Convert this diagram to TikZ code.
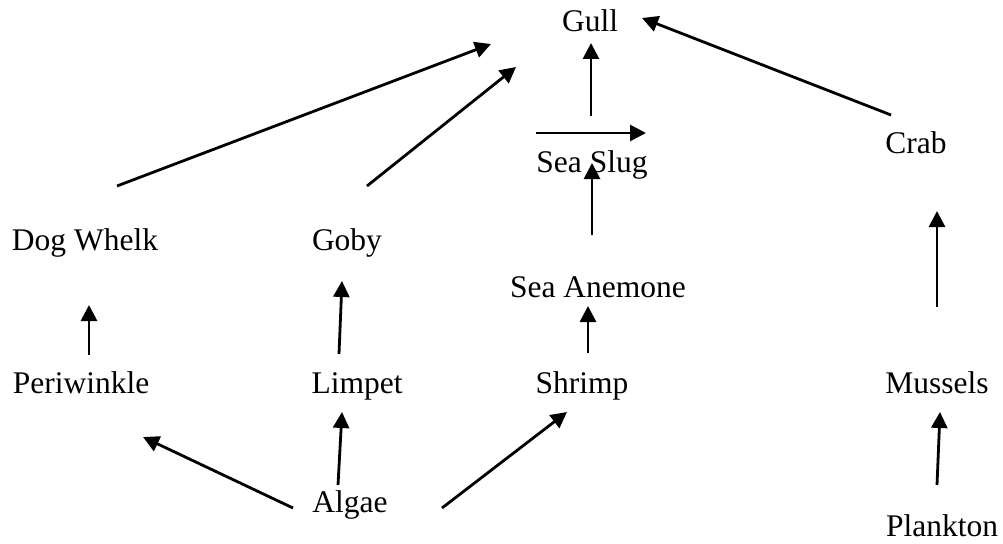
\documentclass[tikz,border=0pt]{standalone}
\usepackage{fontspec}
\setmainfont{Liberation Serif}
\usetikzlibrary{arrows.meta}
\begin{document}
\begin{tikzpicture}[x=1pt,y=-1pt,
  lab/.style={anchor=base,inner sep=0pt,font=\fontsize{31.5}{38}\selectfont},
  arr/.style={line width=2.8pt,-{Triangle[length=16pt,width=16pt]}}]
\useasboundingbox (0,0) rectangle (1003,543);
% labels
\node[lab] (gull) at (590,32) {Gull};
\node[lab] (seaslug) at (592,172) {Sea Slug};
\node[lab] (crab) at (916,153) {Crab};
\node[lab] (dogwhelk) at (85,250) {Dog Whelk};
\node[lab] (goby) at (347,250) {Goby};
\node[lab] (anemone) at (598,297) {Sea Anemone};
\node[lab] (periwinkle) at (81,393) {Periwinkle};
\node[lab] (limpet) at (357,393) {Limpet};
\node[lab] (shrimp) at (582,393) {Shrimp};
\node[lab] (mussels) at (937,393) {Mussels};
\node[lab] (algae) at (350,512) {Algae};
\node[lab] (plankton) at (942,536) {Plankton};
% arrow end points
\coordinate (dw-t) at (117,186); \coordinate (dw-h) at (491,44);
\coordinate (go-t) at (367,186); \coordinate (go-h) at (516,67);
\coordinate (ss-t) at (591,116); \coordinate (ss-h) at (591,43);
\coordinate (hz-t) at (536,133); \coordinate (hz-h) at (646,133);
\coordinate (an-t) at (592,235); \coordinate (an-h) at (592,163);
\coordinate (cr-t) at (891,115); \coordinate (cr-h) at (642,18);
\coordinate (mu-t) at (937,307); \coordinate (mu-h) at (937,211);
\coordinate (sh-t) at (588,353); \coordinate (sh-h) at (588,306);
\coordinate (pe-t) at (89,355); \coordinate (pe-h) at (89,305);
\coordinate (li-t) at (339,354); \coordinate (li-h) at (342,281);
\coordinate (a1-t) at (293,508); \coordinate (a1-h) at (143,437);
\coordinate (a2-t) at (338,485); \coordinate (a2-h) at (342,412);
\coordinate (a3-t) at (442,508); \coordinate (a3-h) at (567,412);
\coordinate (pl-t) at (937,485); \coordinate (pl-h) at (940,412);
% arrows
\draw[arr] (dw-t) -- (dw-h);
\draw[arr] (go-t) -- (go-h);
\draw[arr] (ss-t) -- (ss-h);
\draw[arr] (hz-t) -- (hz-h);
\draw[arr] (an-t) -- (an-h);
\draw[arr] (cr-t) -- (cr-h);
\draw[arr] (mu-t) -- (mu-h);
\draw[arr] (sh-t) -- (sh-h);
\draw[arr] (pe-t) -- (pe-h);
\draw[arr] (li-t) -- (li-h);
\draw[arr] (a1-t) -- (a1-h);
\draw[arr] (a2-t) -- (a2-h);
\draw[arr] (a3-t) -- (a3-h);
\draw[arr] (pl-t) -- (pl-h);
\end{tikzpicture}
\end{document}
